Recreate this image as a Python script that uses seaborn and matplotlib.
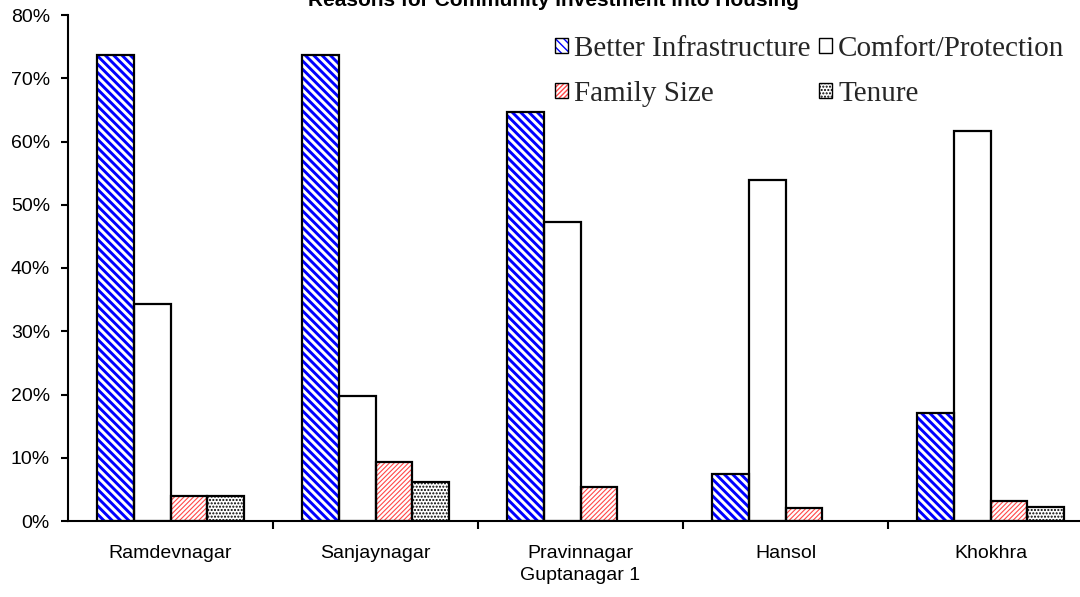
import numpy as np
import pandas as pd
import matplotlib
matplotlib.use("Agg")
import matplotlib.pyplot as plt
from matplotlib.patches import Rectangle, Patch
from matplotlib.ticker import PercentFormatter, FixedLocator
import seaborn as sns

# ---- data ----
sites = ["Ramdevnagar", "Sanjaynagar", "Pravinnagar\nGuptanagar 1", "Hansol", "Khokhra"]
reasons = ["Better Infrastructure", "Comfort/Protection", "Family Size", "Tenure"]
better_infrastructure = [0.737, 0.737, 0.646, 0.075, 0.170]
comfort_protection = [0.343, 0.198, 0.472, 0.539, 0.617]
family_size = [0.040, 0.094, 0.053, 0.021, 0.031]
tenure = [0.040, 0.062, 0.0, 0.0, 0.022]
y_ticks = [0, 0.1, 0.2, 0.3, 0.4, 0.5, 0.6, 0.7, 0.8]
title = "Reasons for Community Investment into Housing"

series = [better_infrastructure, comfort_protection, family_size, tenure]
df = pd.DataFrame({
    "site": sites * 4,
    "reason": sum([[r] * len(sites) for r in reasons], []),
    "share": sum([list(s) for s in series], []),
})

sns.set_theme(style="white")
plt.rcParams["font.family"] = ["Liberation Sans", "DejaVu Sans"]

fig = plt.figure(figsize=(10.8, 5.97), dpi=100)
ax = fig.add_axes([68 / 1080, 1 - 521 / 597, (1093 - 68) / 1080, (521 - 15) / 597])

sns.barplot(data=df, x="site", y="share", hue="reason", order=sites, hue_order=reasons,
            palette=["white"] * 4, saturation=1, width=0.72, gap=0, legend=False,
            errorbar=None, ax=ax)

BS = chr(92)
styles = {
    "Better Infrastructure": dict(hatch=BS * 4, hcolor="#0000ff", hlw=2.1),
    "Comfort/Protection": dict(hatch=None, hcolor="white", hlw=1.0),
    "Family Size": dict(hatch="/" * 7, hcolor="#ff4848", hlw=0.8),
    "Tenure": dict(hatch="." * 5, hcolor="black", hlw=1.0),
}

for cont, r in zip(ax.containers, reasons):
    st = styles[r]
    for p in cont.patches:
        p.set_facecolor("white")
        p.set_edgecolor(st["hcolor"])
        p.set_linewidth(0)
        if st["hatch"]:
            p.set_hatch(st["hatch"])
            if hasattr(p, "set_hatch_linewidth"):
                p.set_hatch_linewidth(st["hlw"])
        if p.get_height() > 0:
            ax.add_patch(Rectangle((p.get_x(), p.get_y()), p.get_width(), p.get_height(),
                                   fill=False, edgecolor="black", linewidth=1.6, zorder=3))

ax.set_xlim(-0.5, len(sites) - 0.5)
ax.set_ylim(0, 0.8)
ax.yaxis.set_major_locator(FixedLocator(y_ticks))
ax.yaxis.set_major_formatter(PercentFormatter(1.0, decimals=0))
ax.set_xlabel("")
ax.set_ylabel("")

for s in ["top", "right"]:
    ax.spines[s].set_visible(False)
for s in ["left", "bottom"]:
    ax.spines[s].set_color("black")
    ax.spines[s].set_linewidth(1.5)

ax.tick_params(axis="y", which="major", direction="out", length=5, width=1.5, color="black",
               left=True, labelsize=14, pad=8, labelcolor="black")
ax.tick_params(axis="x", which="major", length=0, labelsize=14, pad=17, labelcolor="black")
ax.set_xticks(np.arange(len(sites)))
ax.set_xticklabels(sites, linespacing=1.45)
ax.xaxis.set_minor_locator(FixedLocator(np.arange(0.5, len(sites) - 1, 1.0)))
ax.tick_params(axis="x", which="minor", direction="out", length=6, width=1.5,
               color="black", bottom=True)

fig.text(553 / 1080, 1 - 6 / 597, title, ha="center", va="baseline",
         fontsize=15, fontweight="bold", color="black")

# legend (row-wise order: Better, Comfort / Family, Tenure)
handles = {}
for r in reasons:
    st = styles[r]
    base = Patch(facecolor="white", edgecolor=st["hcolor"], linewidth=0, hatch=st["hatch"])
    outline = Patch(facecolor="none", edgecolor="black", linewidth=1.0)
    handles[r] = (base, outline)
leg_order = ["Better Infrastructure", "Family Size", "Comfort/Protection", "Tenure"]
leg = ax.legend([handles[r] for r in leg_order], leg_order, loc="upper left",
                bbox_to_anchor=(555 / 1080, 1 - 36 / 597),
                bbox_transform=fig.transFigure, ncol=2, frameon=False,
                prop={"family": "Liberation Serif", "size": 21},
                handlelength=0.45, handleheight=0.42, handletextpad=0.2,
                columnspacing=0.3, labelspacing=0.65, borderpad=0, borderaxespad=0)

fig.savefig("out.png", dpi=100)
